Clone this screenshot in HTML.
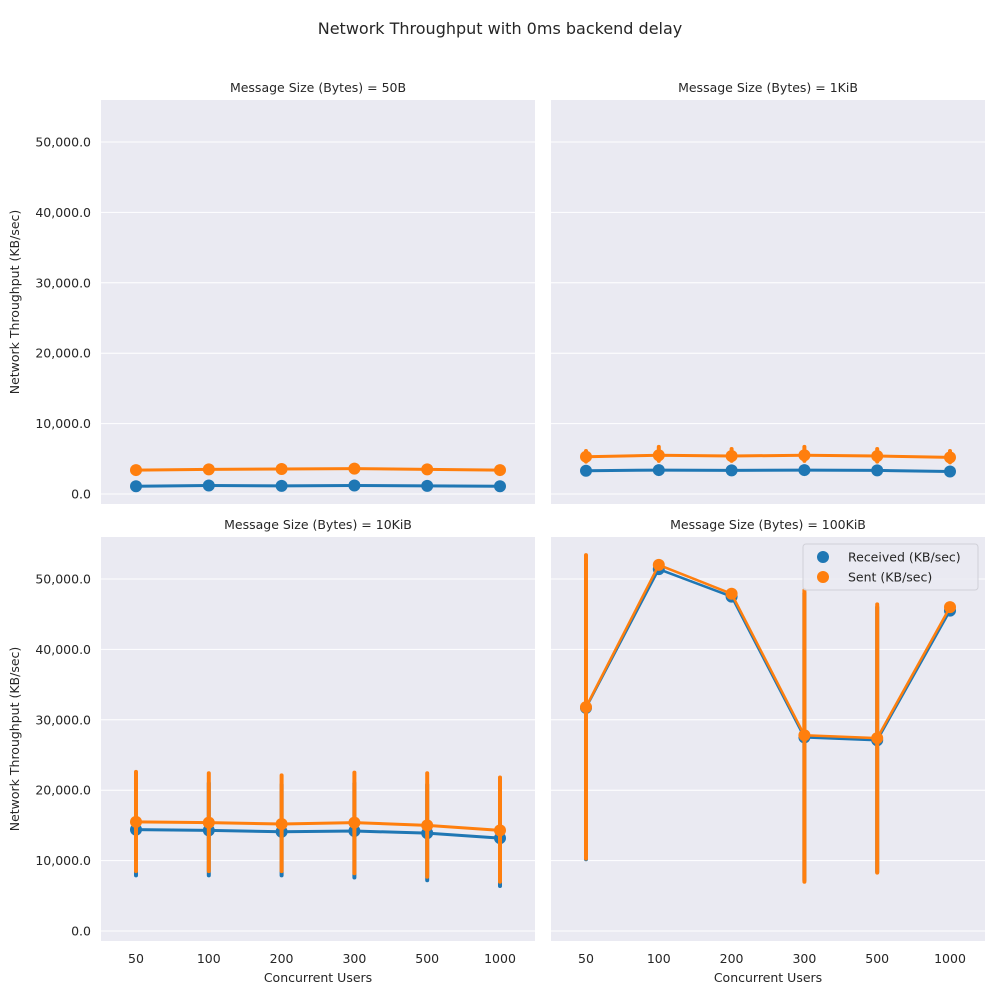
<!DOCTYPE html>
<html><head><meta charset="utf-8">
<style>
html,body{margin:0;padding:0;background:#fff;}
svg{display:block;font-family:"DejaVu Sans","Liberation Sans",sans-serif;}
</style></head>
<body>
<svg id="chart" width="1000" height="1000" viewBox="0 0 1000 1000" xmlns="http://www.w3.org/2000/svg">
<text x="500" y="34" text-anchor="middle" font-size="16" fill="#262626">Network Throughput with 0ms backend delay</text>
</svg>
<script>
const categories = ["50","100","200","300","500","1000"];
const panelTitles = ["Message Size (Bytes) = 50B","Message Size (Bytes) = 1KiB","Message Size (Bytes) = 10KiB","Message Size (Bytes) = 100KiB"];
const yTicks = [0,10000,20000,30000,40000,50000];
const yTickLabels = ["0.0","10,000.0","20,000.0","30,000.0","40,000.0","50,000.0"];
// panel 50B
const recv50B = [1100,1200,1150,1200,1150,1100];
const sent50B = [3400,3500,3550,3600,3500,3400];
const recv50BLo = [1000,1100,1050,1100,1050,1000];
const recv50BHi = [1200,1300,1250,1300,1250,1200];
const sent50BLo = [3300,3400,3450,3500,3400,3300];
const sent50BHi = [3500,3600,3650,3700,3600,3500];
// panel 1KiB
const recv1K = [3300,3400,3350,3400,3350,3200];
const sent1K = [5300,5500,5400,5500,5400,5200];
const recv1KLo = [3200,3300,3250,3300,3250,3100];
const recv1KHi = [3400,3500,3450,3500,3450,3300];
const sent1KLo = [4600,4700,4700,4700,4600,4500];
const sent1KHi = [6100,6700,6400,6700,6400,6100];
// panel 10KiB
const recv10K = [14400,14300,14100,14200,13900,13200];
const sent10K = [15500,15400,15200,15400,15000,14300];
const recv10KLo = [7900,7900,7900,7600,7200,6400];
const recv10KHi = [21000,21000,20800,21000,20800,20300];
const sent10KLo = [8500,8500,8500,8200,7700,7000];
const sent10KHi = [22600,22400,22100,22500,22400,21800];
// panel 100KiB
const recv100K = [31700,51400,47500,27500,27100,45500];
const sent100K = [31800,52000,47900,27800,27400,46000];
const recv100KLo = [10200,51000,47200,7200,8400,45200];
const recv100KHi = [53000,51800,47800,48000,46000,45800];
const sent100KLo = [10300,51600,47600,7000,8300,45700];
const sent100KHi = [53400,52400,48200,48400,46400,46300];

const panelRecv = [recv50B,recv1K,recv10K,recv100K];
const panelSent = [sent50B,sent1K,sent10K,sent100K];
const panelRecvLo = [recv50BLo,recv1KLo,recv10KLo,recv100KLo];
const panelRecvHi = [recv50BHi,recv1KHi,recv10KHi,recv100KHi];
const panelSentLo = [sent50BLo,sent1KLo,sent10KLo,sent100KLo];
const panelSentHi = [sent50BHi,sent1KHi,sent10KHi,sent100KHi];

const NS = "http://www.w3.org/2000/svg";
const svg = document.getElementById("chart");
const BLUE = "#1f77b4", ORANGE = "#ff7f0e";
const panels = [
  {x0:101,x1:535,y0:100,y1:504,zero:494},
  {x0:551,x1:985,y0:100,y1:504,zero:494},
  {x0:101,x1:535,y0:537,y1:941,zero:931},
  {x0:551,x1:985,y0:537,y1:941,zero:931}
];
const PX_PER = 352/50000;
function mk(tag, attrs, parent){
  const e = document.createElementNS(NS, tag);
  for (const k in attrs) e.setAttribute(k, attrs[k]);
  (parent||svg).appendChild(e);
  return e;
}
panels.forEach((p, pi) => {
  const xs = i => p.x0 + 35 + i * ((p.x1 - p.x0 - 70) / (categories.length - 1));
  const ys = v => p.zero - v * PX_PER;
  const g = mk("g", {});
  
  
  const bg = mk("rect", {x:p.x0, y:p.y0, width:p.x1-p.x0, height:p.y1-p.y0, fill:"#eaeaf2"}, g);
  
  
  yTicks.forEach((t, ti) => {
    const gl = mk("line", {x1:p.x0, x2:p.x1, y1:ys(t), y2:ys(t), stroke:"#fff", "stroke-width":1}, g);
    
    
    if (pi % 2 === 0) {
      const tl = mk("text", {x:p.x0-10, y:ys(t)+4.5, "text-anchor":"end", "font-size":12.5, fill:"#262626"}, g);
      tl.textContent = yTickLabels[ti];
      
      
    }
  });
  const tt = mk("text", {x:(p.x0+p.x1)/2, y:p.y0-8, "text-anchor":"middle", "font-size":12.5, fill:"#262626"}, g);
  tt.textContent = panelTitles[pi];
  
  
  if (pi >= 2) {
    categories.forEach((c, i) => {
      const xl = mk("text", {x:xs(i), y:p.y1+22, "text-anchor":"middle", "font-size":12.5, fill:"#262626"}, g);
      xl.textContent = c;
      
      
    });
    const xt = mk("text", {x:(p.x0+p.x1)/2, y:p.y1+41, "text-anchor":"middle", "font-size":12.5, fill:"#262626"}, g);
    xt.textContent = "Concurrent Users";
    
    
  }
  if (pi % 2 === 0) {
    const cy = (p.y0+p.y1)/2;
    const yt = mk("text", {x:19, y:cy, "text-anchor":"middle", "font-size":12.5, fill:"#262626", transform:"rotate(-90 19 "+cy+")"}, g);
    yt.textContent = "Network Throughput (KB/sec)";
    
    
  }
  const lw = pi === 3 ? 2.5 : 3;
  [[panelRecv[pi], panelRecvLo[pi], panelRecvHi[pi], BLUE, "received"],
   [panelSent[pi], panelSentLo[pi], panelSentHi[pi], ORANGE, "sent"]].forEach(([vals, lo, hi, col, nm]) => {
    vals.forEach((v, i) => {
      const eb = mk("line", {x1:xs(i), x2:xs(i), y1:ys(lo[i]), y2:ys(hi[i]), stroke:col, "stroke-width":4, "stroke-linecap":"round"}, g);
      
      
    });
    const pts = vals.map((v, i) => xs(i) + "," + ys(v)).join(" ");
    const pl = mk("polyline", {points:pts, fill:"none", stroke:col, "stroke-width":lw, "stroke-linecap":"round", "stroke-linejoin":"round"}, g);
    
    
    vals.forEach((v, i) => {
      const c = mk("circle", {cx:xs(i), cy:ys(v), r:6, fill:col}, g);
      
      
    });
  });
});
// legend
const lg = mk("g", {});


mk("rect", {x:803, y:544, width:175, height:46, rx:3, fill:"#eaeaf2", "fill-opacity":0.85, stroke:"#d0d0d8"}, lg);
[["Received (KB/sec)", BLUE, 557], ["Sent (KB/sec)", ORANGE, 577]].forEach(([lab, col, y]) => {
  const c = mk("circle", {cx:823, cy:y, r:6, fill:col}, lg);
  
  
  const t = mk("text", {x:848, y:y+4.5, "font-size":12.5, fill:"#262626"}, lg);
  t.textContent = lab;
  
  
});
</script>
</body></html>
